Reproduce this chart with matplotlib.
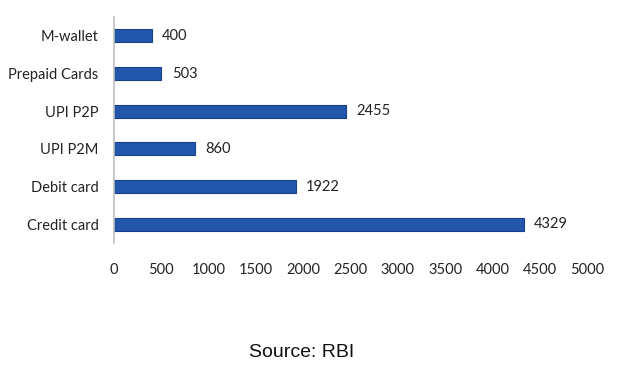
import matplotlib.pyplot as plt

categories = ['Credit card', 'Debit card', 'UPI P2M', 'UPI P2P', 'Prepaid Cards', 'M-wallet']
values = [4329, 1922, 860, 2455, 503, 400]
xticks = [0, 500, 1000, 1500, 2000, 2500, 3000, 3500, 4000, 4500, 5000]

plt.rcParams['font.family'] = ['Lato', 'DejaVu Sans']

fig = plt.figure(figsize=(6.39, 3.70), dpi=100)
ax = fig.add_axes([0.178, 0.343, 0.741, 0.611])

bars = ax.barh(range(len(categories)), values, height=0.34,
               color='#2257AB', edgecolor='#1A3F8C', linewidth=0.8)
for i, v in enumerate(values):
    ax.text(v + 110, i, str(v), va='center', ha='left', fontsize=10.5, color='#222222')

ax.set_yticks(range(len(categories)))
ax.set_yticklabels(categories, fontsize=10.5, color='#222222')
ax.set_xticks(xticks)
ax.set_xticklabels([str(t) for t in xticks], fontsize=10.5, color='#222222')
ax.set_xlim(0, 5000)
ax.set_ylim(-0.5, len(categories) - 0.5)

for s in ['top', 'right', 'bottom']:
    ax.spines[s].set_visible(False)
ax.spines['left'].set_color('#BFBFBF')
ax.spines['left'].set_linewidth(1.2)
ax.tick_params(axis='both', length=0)
ax.tick_params(axis='x', pad=14)
ax.tick_params(axis='y', pad=11)

fig.text(0.472, 0.048, 'Source: RBI', ha='center', va='center', fontsize=14,
         family='Liberation Sans', color='#111111')

fig.savefig('out.png', dpi=100)
